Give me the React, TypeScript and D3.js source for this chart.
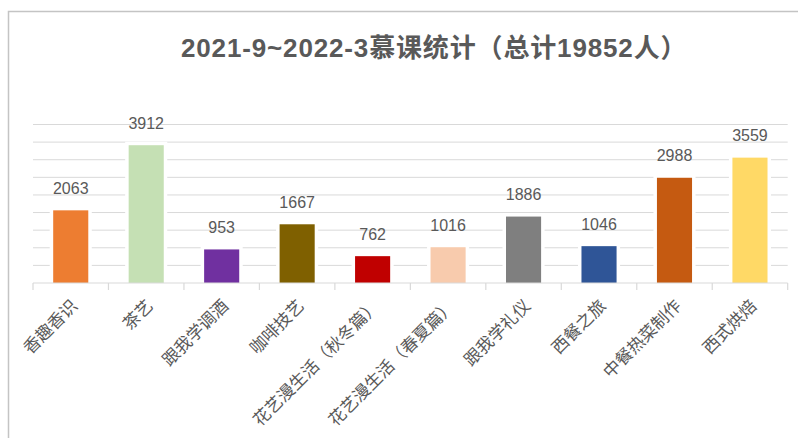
import React from "react";
import * as d3 from "d3";

const categories = [
  "香趣香识",
  "茶艺",
  "跟我学调酒",
  "咖啡技艺",
  "花艺漫生活（秋冬篇）",
  "花艺漫生活（春夏篇）",
  "跟我学礼仪",
  "西餐之旅",
  "中餐热菜制作",
  "西式烘焙",
];
const values = [2063, 3912, 953, 1667, 762, 1016, 1886, 1046, 2988, 3559];
const colors = [
  "#ED7D31",
  "#C5E0B4",
  "#7030A0",
  "#7F6000",
  "#C00000",
  "#F8CBAD",
  "#7F7F7F",
  "#2F5597",
  "#C55A11",
  "#FFD966",
];
const gridTicks = [500, 1000, 1500, 2000, 2500, 3000, 3500, 4000, 4500];
const title = "2021-9~2022-3慕课统计（总计19852人）";

const W = 798;
const H = 438;
const FONT = "'Liberation Sans', Arial, 'Noto Sans CJK SC', sans-serif";
const TEXT = "#595959";

export default function App() {
  const x = d3.scaleBand<string>().domain(categories).range([33, 787.7]).paddingInner(0.535).paddingOuter(0.2675);
  const band = d3.scaleBand<string>().domain(categories).range([33, 787.7]).padding(0);
  const y = d3.scaleLinear().domain([0, 4500]).range([283, 124.5]);
  const bw = x.bandwidth();

  return (
    <svg
      width={W}
      height={H}
      style={{ position: "absolute", left: 0, top: 0, background: "#fff" }}
      fontFamily={FONT}
    >
      <rect x={0} y={0} width={W} height={H} fill="#fff" />
      <rect x={8.5} y={11.5} width={W + 20} height={H + 20} fill="none" stroke="#c4c4c4" strokeWidth={1.5} />
      <text x={181} y={56.5} fontSize={26} fontWeight="bold" fill={TEXT} letterSpacing={0.85}>
        {title}
      </text>
      {gridTicks.map((t) => (
        <line key={t} x1={33} x2={787.7} y1={y(t)} y2={y(t)} stroke="#d9d9d9" strokeWidth={1} />
      ))}
      {categories.map((c, i) => (
        <rect
          key={"bg" + c}
          x={(x(c) as number) - 3.5}
          y={y(values[i]) - 3.5}
          width={bw + 7}
          height={y(0) - y(values[i]) + 3.5}
          fill="#fff"
        />
      ))}
      {categories.map((c, i) => (
        <rect
          key={"bar" + c}
          x={x(c) as number}
          y={y(values[i])}
          width={bw}
          height={y(0) - y(values[i])}
          fill={colors[i]}
        />
      ))}
      <line x1={33} x2={787.7} y1={y(0)} y2={y(0)} stroke="#d9d9d9" strokeWidth={1.2} />
      {[...categories.map((c) => band(c) as number), 787.7].map((bx, i) => (
        <line key={"tk" + i} x1={bx} x2={bx} y1={y(0)} y2={y(0) + 7} stroke="#d9d9d9" strokeWidth={1.2} />
      ))}
      {categories.map((c, i) => (
        <text
          key={"lbl" + c}
          x={(x(c) as number) + bw / 2}
          y={y(values[i]) - 16.5}
          fontSize={16}
          fill={TEXT}
          textAnchor="middle"
        >
          {values[i]}
        </text>
      ))}
      {categories.map((c) => {
        const cx = (band(c) as number) + band.bandwidth() / 2;
        return (
          <text
            key={"cat" + c}
            transform={`translate(${cx + 4},${303}) rotate(-45)`}
            fontSize={17}
            fill={TEXT}
            textAnchor="end"
            dominantBaseline="central"
          >
            {c}
          </text>
        );
      })}
    </svg>
  );
}
